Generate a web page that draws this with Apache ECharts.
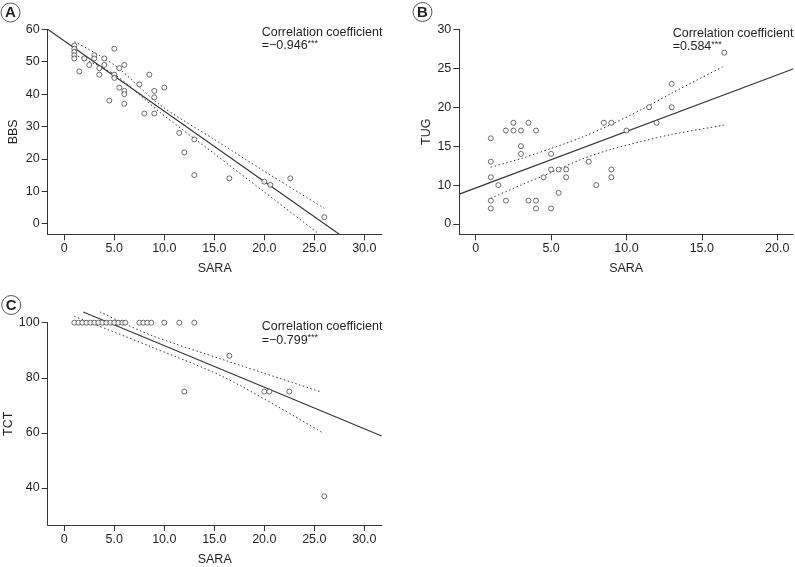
<!DOCTYPE html>
<html><head><meta charset="utf-8">
<script src="https://cdn.jsdelivr.net/npm/echarts@6/dist/echarts.min.js"></script>
<style>html,body{margin:0;padding:0;background:#fff}#c{width:795px;height:567px}</style>
</head><body><div id="c"></div>
<script>
// ---------- Panel A: SARA vs BBS ----------
const A_sara = [1,1,1,1,1,1.5,2,2.5,3,3,3.5,3.5,4,4,4.5,5,5,5,5.5,5.5,6,6,6,6,7.5,8,8.5,9,9,9,10,11.5,12,13,13,16.5,20,20.6,22.6,26];
const A_bbs  = [55,54,53,52,51,47,51,49,52,51,48,46,51,49,38,54,46,45,48,42,49,41,40,37,43,34,46,41,39,34,42,28,22,26,15,14,13,12,14,2];
const A_fitX = [-1.66, 27.5];
const A_fitY = [60.0, -3.27];
const A_ciX  = [1, 5, 9.6, 15, 20, 26];
const A_ciUp = [56.2, 49.0, 36.6, 26.0, 16.2, 4.75];
const A_ciLoX = [1, 5, 9.6, 15, 20, 25.4];
const A_ciLo = [52.2, 46.1, 34.3, 21.6, 9.8, -3.0];
const A_xTicks = [0,5,10,15,20,25,30];
const A_yTicks = [0,10,20,30,40,50,60];

// ---------- Panel B: SARA vs TUG ----------
const B_sara = [1,1,1,1,1,1.5,2,2,2.5,2.5,3,3,3,3.5,3.5,4,4,4,4.5,5,5,5,5.5,5.5,6,6,7.5,8,8.5,9,9,9,10,11.5,12,13,13,16.5];
const B_tug  = [16,13,11,8,7,10,17,8,18,17,17,15,14,18,8,17,8,7,11,14,12,7,12,9,12,11,13,10,18,18,12,11,17,20,18,23,20,27];
const B_fitX = [-1.09, 21.05];
const B_fitY = [8.84, 24.9];
const B_ciX  = [1, 3, 5, 7, 9, 11, 13, 16.5];
const B_ciUp = [12.3, 13.4, 14.7, 16.1, 17.8, 19.7, 21.8, 25.3];
const B_ciLo = [8.3, 10.0, 11.6, 13.3, 14.6, 15.6, 16.5, 17.7];
const B_xTicks = [0,5,10,15,20];
const B_yTicks = [5,10,15,20,25,30];
const B_yTickLabels = ['0','10','15','20','25','30'];

// ---------- Panel C: SARA vs TCT ----------
const C_sara = [1,1.4,1.8,2.2,2.6,3,3.4,3.8,4.2,4.6,5,5.4,5.8,6.1,7.5,7.9,8.3,8.7,10,11.5,13,16.5,12,20,20.5,22.5,26];
const C_tct  = [100,100,100,100,100,100,100,100,100,100,100,100,100,100,100,100,100,100,100,100,100,88,75,75,75,75,37];
const C_fitX = [1.9, 31.74];
const C_fitY = [103.9, 58.9];
const C_ciUpX = [3.57, 8.57, 16.2, 25.74];
const C_ciUp  = [103.9, 95.6, 86.2, 74.8];
const C_ciLoX = [1.0, 8.57, 16.2, 25.74];
const C_ciLo  = [102.3, 91.4, 79.8, 60.25];
const C_xTicks = [0,5,10,15,20,25,30];
const C_yTicks = [40,60,80,100];

const INK = '#231f20';
const FONT = 'Liberation Sans, Arial, Helvetica, sans-serif';
const FS = 12.5;

function pairs(xs, ys){ return xs.map((x,i)=>[x, ys[i]]); }
function xLab(v){ return v === 0 ? '0' : v.toFixed(1); }

function xAxis(idx, min, max, ticks){
  return {type:'value', gridIndex: idx, min, max, name:'SARA', nameLocation:'middle', nameGap:28,
    nameTextStyle:{color:INK, fontFamily:FONT, fontSize:FS},
    axisLine:{onZero:false, lineStyle:{color:'#333', width:1}},
    axisTick:{show:true, length:6, customValues:ticks, lineStyle:{color:'#333'}},
    axisLabel:{customValues:ticks, formatter:xLab, color:INK, fontFamily:FONT, fontSize:FS, margin:8},
    splitLine:{show:false}};
}
function yAxis(idx, min, max, ticks, name, gap, fmt){
  return {type:'value', gridIndex: idx, min, max, name, nameLocation:'middle', nameGap:gap, nameRotate:90,
    nameTextStyle:{color:INK, fontFamily:FONT, fontSize:FS},
    axisLine:{show:true, onZero:false, lineStyle:{color:'#333', width:1}},
    axisTick:{show:true, length:6, customValues:ticks, lineStyle:{color:'#333'}},
    axisLabel:{customValues:ticks, formatter: fmt || (v=>String(v)), color:INK, fontFamily:FONT, fontSize:FS, margin:8},
    splitLine:{show:false}};
}
function scatter(idx, xs, ys){
  return {type:'scatter', xAxisIndex:idx, yAxisIndex:idx, data:pairs(xs,ys), symbol:'circle', symbolSize:5,
    itemStyle:{color:'#fff', borderColor:'#333', borderWidth:0.9}, silent:true, clip:false, z:3};
}
function line(idx, xs, ys, dotted){
  return {type:'line', xAxisIndex:idx, yAxisIndex:idx, data:pairs(xs,ys), showSymbol:false, symbol:'none',
    smooth: dotted ? 0.3 : false, clip:false, silent:true,
    lineStyle:{color:'#333', width: dotted ? 1 : 1.1, type: dotted ? [1.5,2.5] : 'solid'}, z:2};
}

const chart = echarts.init(document.getElementById('c'), null, {renderer:'canvas'});
chart.setOption({
  animation:false,
  backgroundColor:'#fff',
  grid:[
    {left:47.7, top:29.3, width:334, height:205},
    {left:459.3, top:29.3, width:333.7, height:205},
    {left:47.7, top:322.7, width:334, height:205.6}
  ],
  xAxis:[
    xAxis(0, -1.66, 31.74, A_xTicks),
    xAxis(1, -1.09, 21.05, B_xTicks),
    xAxis(2, -1.66, 31.74, C_xTicks)
  ],
  yAxis:[
    yAxis(0, -3.27, 60, A_yTicks, 'BBS', 27.5),
    yAxis(1, 3.68, 30, B_yTicks, 'TUG', 26, v => B_yTickLabels[B_yTicks.indexOf(v)] ?? String(v)),
    yAxis(2, 26.57, 100, C_yTicks, 'TCT', 27.5)
  ],
  series:[
    scatter(0, A_sara, A_bbs),
    line(0, A_fitX, A_fitY, false),
    line(0, A_ciX, A_ciUp, true),
    line(0, A_ciLoX, A_ciLo, true),
    scatter(1, B_sara, B_tug),
    line(1, B_fitX, B_fitY, false),
    line(1, B_ciX, B_ciUp, true),
    line(1, B_ciX, B_ciLo, true),
    scatter(2, C_sara, C_tct),
    line(2, C_fitX, C_fitY, false),
    line(2, C_ciUpX, C_ciUp, true),
    line(2, C_ciLoX, C_ciLo, true)
  ],
  graphic:[
    ...[['A',10.5,12.5],['B',422.5,12],['C',11.2,305]].map(([t,x,y]) => ({
      type:'group', x, y, children:[
        {type:'circle', shape:{cx:0, cy:0, r:9.5}, style:{fill:'#fff', stroke:'#555', lineWidth:1}},
        {type:'text', x:0, y:0.5, style:{text:t, fontFamily:FONT, fontWeight:'bold', fontSize:15, fill:INK, align:'center', verticalAlign:'middle'}}
      ]})),
    ...[['=−0.946',261.7,25.5],['=0.584',672.7,26.5],['=−0.799',261.7,320]].map(([r,x,y]) => ({
      type:'text', x, y, style:{
        text:'{n|Correlation coefficient}\n{n|' + r + '}{s|***}',
        fontFamily:FONT, fill:INK,
        rich:{
          n:{fontFamily:FONT, fontSize:FS, lineHeight:13.5, fill:INK},
          s:{fontFamily:FONT, fontSize:9, lineHeight:13.5, verticalAlign:'top', fill:INK}
        }
      }}))
  ]
});
</script>
</body></html>
